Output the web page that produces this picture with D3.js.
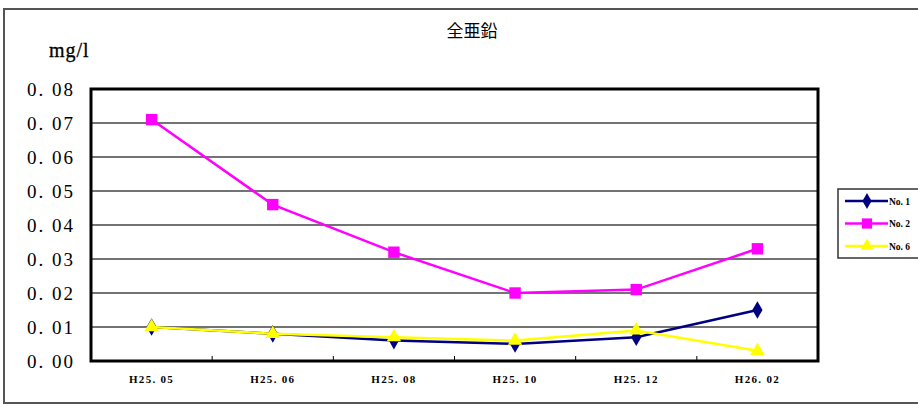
<!DOCTYPE html>
<html><head><meta charset="utf-8">
<script src="https://cdn.jsdelivr.net/npm/d3@7"></script>
<style>body{margin:0;background:#fff}svg{display:block}</style>
</head><body>
<svg id="c" width="918" height="406"></svg>
<script>
const categories = ["H25. 05","H25. 06","H25. 08","H25. 10","H25. 12","H26. 02"];
const no1 = [0.010,0.008,0.006,0.005,0.007,0.015];
const no2 = [0.071,0.046,0.032,0.020,0.021,0.033];
const no6 = [0.010,0.008,0.007,0.006,0.009,0.003];
const yTicks = [0,0.01,0.02,0.03,0.04,0.05,0.06,0.07,0.08];
const seriesNames = ["No. 1","No. 2","No. 6"];
const title = "全亜鉛";
const unit = "mg/l";

const svg = d3.select("#c");
const m = {l:91,r:818,t:89,b:361};
const x = d3.scaleBand().domain(categories).range([m.l,m.r]);
const y = d3.scaleLinear().domain([0,0.08]).range([m.b,m.t]);
const serif = "'Liberation Serif','DejaVu Serif',serif";

// outer border
svg.append("rect").attr("x",4).attr("y",9).attr("width",930).attr("height",394)
  .attr("fill","none").attr("stroke","#555").attr("stroke-width",2);

svg.append("text").attr("x",472).attr("y",37).attr("text-anchor","middle")
  .attr("font-family","'Noto Sans CJK JP',sans-serif").attr("font-size",17).text(title);
svg.append("text").attr("x",49).attr("y",57)
  .attr("font-family",serif).attr("font-size",20).attr("font-weight","normal")
  .attr("letter-spacing",1).attr("stroke","#000").attr("stroke-width",0.3).text(unit);

// gridlines
svg.append("g").selectAll("line").data(yTicks.slice(1,-1)).join("line")
  .attr("x1",m.l).attr("x2",m.r).attr("y1",d=>y(d)).attr("y2",d=>y(d))
  .attr("stroke","#444").attr("stroke-width",1.3);

// y axis labels
const ya = svg.append("g").attr("transform",`translate(${m.l},0)`)
  .call(d3.axisLeft(y).tickValues(yTicks).tickSize(0).tickPadding(16)
  .tickFormat(d=>d3.format(".2f")(d).replace(".",". ")));
ya.select(".domain").remove();
ya.selectAll("text").attr("font-family",serif).attr("font-size",19).attr("fill","#000")
  .attr("letter-spacing",2);

// x axis
const xa = svg.append("g").attr("transform",`translate(0,${m.b})`)
  .call(d3.axisBottom(x).tickSize(0).tickPadding(14));
xa.select(".domain").remove();
xa.selectAll("text").attr("font-family",serif).attr("font-size",11).attr("font-weight","bold")
  .attr("fill","#000").attr("letter-spacing",1.3);
// tick marks inside at band boundaries
svg.append("g").selectAll("line").data(categories.slice(1)).join("line")
  .attr("x1",d=>x(d)).attr("x2",d=>x(d)).attr("y1",m.b).attr("y2",m.b-5)
  .attr("stroke","#000").attr("stroke-width",1);

// plot border
svg.append("rect").attr("x",m.l).attr("y",m.t).attr("width",m.r-m.l).attr("height",m.b-m.t)
  .attr("fill","none").attr("stroke","#000").attr("stroke-width",3);

const cx = c=>x(c)+x.bandwidth()/2;
const series = [
  {name:seriesNames[0],vals:no1,color:"#000080",sym:d3.symbolDiamond,size:90},
  {name:seriesNames[1],vals:no2,color:"#FF00FF",sym:d3.symbolSquare,size:130},
  {name:seriesNames[2],vals:no6,color:"#FFFF00",sym:d3.symbolTriangle,size:90}
];
const line = d3.line().x((d,i)=>cx(categories[i])).y(d=>y(d));
series.forEach(s=>{
  svg.append("path").datum(s.vals).attr("d",line).attr("fill","none")
    .attr("stroke",s.color).attr("stroke-width",2.5);
  svg.append("g").selectAll("path").data(s.vals).join("path")
    .attr("d",d3.symbol().type(s.sym).size(s.size))
    .attr("transform",(d,i)=>`translate(${cx(categories[i])},${y(d)})`)
    .attr("fill",s.color);
});

// legend
const lg = svg.append("g");
lg.append("rect").attr("x",838).attr("y",189).attr("width",90).attr("height",69)
  .attr("fill","#fff").attr("stroke","#333").attr("stroke-width",1.5);
series.forEach((s,i)=>{
  const ly = 201 + i*22.5;
  lg.append("line").attr("x1",845).attr("x2",888).attr("y1",ly).attr("y2",ly)
    .attr("stroke",s.color).attr("stroke-width",2.5);
  lg.append("path").attr("d",d3.symbol().type(s.sym).size(s.size*0.8))
    .attr("transform",`translate(867,${ly})`).attr("fill",s.color);
  lg.append("text").attr("x",889).attr("y",ly+3.5).attr("font-family",serif)
    .attr("font-size",9.5).attr("font-weight","bold").text(s.name);
});
</script>
</body></html>
